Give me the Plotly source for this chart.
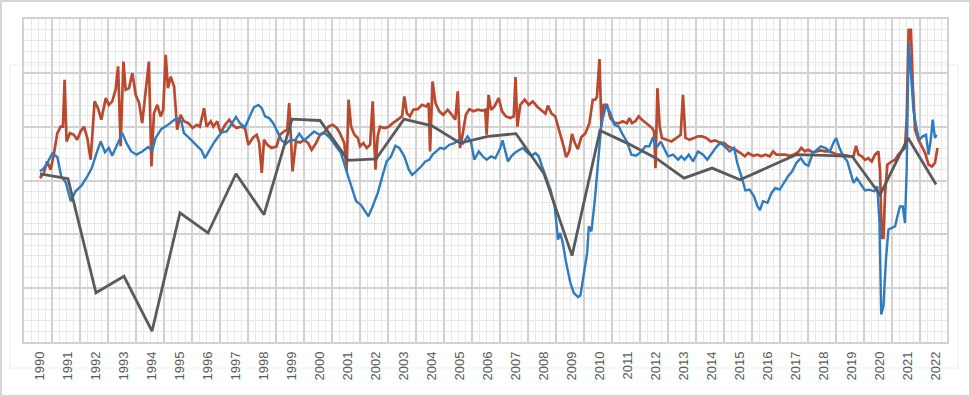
import plotly.graph_objects as go

# ---- data (y axis has no labels, unit = 1/2 major grid step) ----
years = list(range(1990, 2023))
year_labels = [str(y) for y in years]

gray_annual = [0.25, 0.07, -4.17, -3.56, -5.6, -1.2, -1.95, 0.25, -1.27, 2.28, 2.23,
               0.75, 0.8, 2.28, 2.03, 1.39, 1.64, 1.74, 0.25, -2.79, 1.86, 1.37,
               0.83, 0.09, 0.46, 0.03, 0.49, 0.96, 0.93, 0.9, -0.53, 1.58, -0.15]

blue_points = [
    (1990.0, 0.34), (1990.14, 0.46), (1990.29, 0.71), (1990.44, 1.0), (1990.62, 0.87),
    (1990.76, 0.15), (1990.92, -0.07), (1991.1, -0.77), (1991.27, -0.4), (1991.48, -0.19),
    (1991.69, 0.15), (1991.85, 0.46), (1992.02, 1.02), (1992.17, 1.45), (1992.32, 1.05),
    (1992.46, 1.21), (1992.58, 0.92), (1992.76, 1.33), (1992.94, 1.76), (1993.1, 1.37),
    (1993.26, 1.08), (1993.45, 0.96), (1993.65, 1.08), (1993.86, 1.24), (1994.01, 1.12),
    (1994.13, 1.58), (1994.33, 1.91), (1994.52, 2.03), (1994.73, 2.19), (1994.88, 2.32),
    (1995.05, 2.19), (1995.14, 1.76), (1995.3, 1.61), (1995.45, 1.45), (1995.62, 1.29),
    (1995.77, 1.12), (1995.89, 0.83), (1996.05, 1.14), (1996.19, 1.37), (1996.33, 1.58),
    (1996.49, 1.79), (1996.67, 1.82), (1996.85, 2.11), (1997.0, 2.36), (1997.14, 2.13),
    (1997.32, 1.98), (1997.48, 2.36), (1997.64, 2.72), (1997.8, 2.81), (1997.92, 2.69),
    (1998.04, 2.38), (1998.19, 2.31), (1998.33, 2.13), (1998.48, 1.82), (1998.63, 1.49),
    (1998.79, 1.37), (1998.95, 1.51), (1999.11, 1.49), (1999.26, 1.74), (1999.43, 1.49),
    (1999.62, 1.66), (1999.79, 1.82), (1999.98, 1.7), (2000.14, 1.79), (2000.33, 1.61),
    (2000.5, 1.37), (2000.75, 1.02), (2000.93, 0.4), (2001.11, -0.15), (2001.29, -0.77),
    (2001.46, -0.9), (2001.64, -1.19), (2001.73, -1.33), (2001.88, -0.96), (2002.06, -0.47),
    (2002.24, 0.21), (2002.38, 0.71), (2002.54, 0.9), (2002.69, 1.29), (2002.83, 1.21),
    (2003.01, 0.9), (2003.17, 0.4), (2003.29, 0.21), (2003.43, 0.34), (2003.61, 0.52),
    (2003.76, 0.71), (2003.9, 0.77), (2004.02, 0.96), (2004.14, 1.08), (2004.29, 1.21),
    (2004.44, 1.17), (2004.62, 1.33), (2004.8, 1.39), (2004.95, 1.51), (2005.1, 1.37),
    (2005.27, 1.64), (2005.39, 1.45), (2005.51, 0.77), (2005.67, 1.08), (2005.81, 0.9),
    (2005.95, 0.77), (2006.11, 0.9), (2006.26, 0.83), (2006.44, 1.21), (2006.52, 1.49),
    (2006.62, 1.08), (2006.71, 0.71), (2006.83, 0.9), (2006.95, 1.02), (2007.1, 1.12),
    (2007.24, 1.21), (2007.39, 1.05), (2007.55, 0.92), (2007.69, 1.02), (2007.81, 0.9),
    (2007.93, 0.52), (2008.07, 0.15), (2008.23, -0.34), (2008.38, -0.96), (2008.5, -2.2),
    (2008.58, -1.95), (2008.67, -2.32), (2008.79, -3.06), (2008.94, -3.8), (2009.06, -4.17),
    (2009.21, -4.33), (2009.3, -4.27), (2009.42, -3.56), (2009.54, -2.69), (2009.6, -1.7),
    (2009.69, -1.89), (2009.81, -0.77), (2009.93, 0.65), (2010.05, 2.13), (2010.22, 2.81),
    (2010.37, 2.5), (2010.52, 2.07), (2010.67, 2.0), (2010.81, 1.7), (2010.96, 1.45),
    (2011.12, 0.96), (2011.29, 0.92), (2011.48, 1.08), (2011.62, 1.27), (2011.76, 1.27),
    (2011.89, 1.61), (2012.01, 1.21), (2012.17, 1.45), (2012.31, 1.14), (2012.43, 0.9),
    (2012.61, 0.96), (2012.79, 0.77), (2012.9, 0.9), (2013.02, 0.77), (2013.17, 0.96),
    (2013.32, 0.71), (2013.5, 1.08), (2013.68, 0.96), (2013.83, 0.77), (2014.0, 1.02),
    (2014.15, 1.24), (2014.31, 1.41), (2014.45, 1.27), (2014.63, 1.08), (2014.79, 1.21),
    (2014.9, 0.65), (2015.05, 0.15), (2015.19, -0.37), (2015.34, -0.34), (2015.5, -0.59),
    (2015.62, -0.96), (2015.71, -1.1), (2015.82, -0.77), (2015.98, -0.83), (2016.12, -0.47),
    (2016.26, -0.28), (2016.42, -0.34), (2016.57, -0.09), (2016.71, 0.15), (2016.86, 0.34),
    (2017.01, 0.65), (2017.17, 0.83), (2017.31, 0.62), (2017.44, 0.55), (2017.6, 1.02),
    (2017.74, 1.14), (2017.88, 1.27), (2018.04, 1.21), (2018.21, 1.08), (2018.33, 1.39),
    (2018.43, 1.58), (2018.55, 1.21), (2018.69, 0.9), (2018.83, 0.71), (2018.95, 0.28),
    (2019.05, -0.09), (2019.17, 0.09), (2019.31, -0.15), (2019.46, -0.37), (2019.62, -0.34),
    (2019.79, -0.4), (2019.9, -0.22), (2019.98, -1.58), (2020.04, -4.98), (2020.12, -4.67),
    (2020.21, -2.94), (2020.3, -1.82), (2020.42, -1.76), (2020.54, -1.7), (2020.62, -1.33),
    (2020.71, -0.96), (2020.81, -0.96), (2020.89, -1.58), (2020.95, 0.4), (2021.02, 5.1),
    (2021.1, 4.0), (2021.19, 2.63), (2021.31, 1.88), (2021.4, 1.51), (2021.52, 1.64),
    (2021.64, 1.7), (2021.73, 0.96), (2021.81, 1.51), (2021.88, 2.26), (2021.96, 1.58),
    (2022.02, 1.7),
]

red_points = [
    (1990.0, 0.09), (1990.14, 0.28), (1990.26, 0.71), (1990.38, 0.4), (1990.5, 1.0),
    (1990.62, 1.76), (1990.74, 2.0), (1990.82, 2.0), (1990.88, 3.74), (1990.95, 1.45),
    (1991.07, 1.76), (1991.21, 1.7), (1991.33, 1.51), (1991.45, 1.82), (1991.57, 2.0),
    (1991.69, 1.58), (1991.81, 0.77), (1991.95, 2.94), (1992.07, 2.69), (1992.19, 2.26),
    (1992.35, 3.06), (1992.46, 2.81), (1992.58, 2.94), (1992.7, 3.37), (1992.79, 4.24),
    (1992.88, 1.27), (1992.98, 4.42), (1993.06, 3.37), (1993.18, 3.43), (1993.3, 3.99),
    (1993.42, 3.18), (1993.54, 2.88), (1993.65, 2.13), (1993.77, 3.18), (1993.89, 4.42),
    (1993.98, 0.52), (1994.07, 2.5), (1994.19, 2.81), (1994.31, 2.38), (1994.4, 2.63),
    (1994.49, 4.67), (1994.57, 3.43), (1994.67, 3.86), (1994.79, 3.49), (1994.9, 1.89),
    (1995.02, 2.44), (1995.14, 2.2), (1995.3, 2.13), (1995.45, 1.95), (1995.6, 2.07),
    (1995.71, 2.0), (1995.86, 2.69), (1995.95, 2.0), (1996.1, 2.2), (1996.19, 2.0),
    (1996.33, 2.2), (1996.45, 1.76), (1996.61, 2.07), (1996.76, 2.26), (1996.88, 2.07),
    (1997.02, 1.95), (1997.17, 2.0), (1997.32, 1.95), (1997.44, 1.33), (1997.6, 1.58),
    (1997.74, 1.7), (1997.83, 1.39), (1997.92, 0.28), (1998.0, 1.51), (1998.12, 1.33),
    (1998.27, 1.21), (1998.45, 1.27), (1998.57, 1.7), (1998.71, 1.82), (1998.83, 1.89),
    (1998.9, 2.88), (1999.02, 0.34), (1999.14, 1.45), (1999.29, 1.41), (1999.43, 1.51),
    (1999.58, 1.39), (1999.7, 1.14), (1999.86, 1.39), (2000.0, 1.7), (2000.14, 1.76),
    (2000.3, 2.0), (2000.45, 2.07), (2000.6, 1.95), (2000.71, 1.76), (2000.87, 1.39),
    (2000.95, 0.34), (2001.02, 3.0), (2001.11, 2.0), (2001.23, 1.7), (2001.35, 1.58),
    (2001.43, 1.27), (2001.55, 1.39), (2001.67, 1.21), (2001.79, 1.33), (2001.88, 2.94),
    (2001.98, 0.4), (2002.06, 1.64), (2002.14, 2.0), (2002.3, 1.95), (2002.45, 2.0),
    (2002.6, 2.13), (2002.77, 2.26), (2002.93, 2.38), (2003.01, 3.12), (2003.1, 2.5),
    (2003.21, 2.38), (2003.33, 2.63), (2003.49, 2.65), (2003.64, 2.81), (2003.79, 2.75),
    (2003.88, 2.88), (2003.93, 1.08), (2004.02, 3.68), (2004.12, 2.88), (2004.26, 2.57),
    (2004.4, 2.44), (2004.56, 2.63), (2004.71, 2.44), (2004.83, 2.26), (2004.92, 3.31),
    (2005.0, 1.21), (2005.1, 1.76), (2005.21, 2.44), (2005.33, 2.65), (2005.48, 2.57),
    (2005.63, 2.63), (2005.79, 2.6), (2005.9, 2.63), (2005.95, 1.7), (2006.02, 3.18),
    (2006.11, 2.63), (2006.23, 2.75), (2006.3, 2.9), (2006.38, 3.06), (2006.5, 2.57),
    (2006.64, 2.38), (2006.8, 2.32), (2006.92, 2.38), (2006.98, 3.84), (2007.05, 2.0),
    (2007.15, 2.81), (2007.31, 3.0), (2007.45, 2.81), (2007.6, 2.94), (2007.75, 2.75),
    (2007.9, 2.63), (2008.05, 2.48), (2008.14, 2.78), (2008.26, 2.5), (2008.4, 2.38),
    (2008.58, 1.76), (2008.7, 1.27), (2008.79, 0.87), (2008.9, 1.08), (2009.0, 1.73),
    (2009.1, 1.39), (2009.21, 1.17), (2009.33, 1.61), (2009.48, 1.76), (2009.62, 2.13),
    (2009.74, 3.0), (2009.83, 3.0), (2009.89, 3.12), (2009.98, 4.51), (2010.05, 2.0),
    (2010.13, 2.81), (2010.25, 2.81), (2010.37, 2.32), (2010.52, 2.13), (2010.67, 2.13),
    (2010.81, 2.2), (2010.96, 2.13), (2011.05, 2.32), (2011.14, 2.13), (2011.26, 2.2),
    (2011.38, 2.38), (2011.5, 2.26), (2011.64, 2.13), (2011.76, 2.04), (2011.86, 1.95),
    (2011.93, 1.82), (2011.98, 0.46), (2012.05, 3.43), (2012.13, 2.0), (2012.21, 1.58),
    (2012.37, 1.51), (2012.55, 1.45), (2012.73, 1.58), (2012.88, 1.7), (2012.96, 3.18),
    (2013.05, 1.58), (2013.2, 1.51), (2013.38, 1.58), (2013.5, 1.64), (2013.64, 1.64),
    (2013.8, 1.58), (2013.95, 1.45), (2014.1, 1.49), (2014.27, 1.41), (2014.43, 1.39),
    (2014.57, 1.27), (2014.71, 1.21), (2014.87, 1.12), (2015.02, 1.02), (2015.17, 0.9),
    (2015.29, 1.02), (2015.46, 0.92), (2015.62, 0.96), (2015.76, 0.9), (2015.91, 0.96),
    (2016.06, 0.9), (2016.18, 1.08), (2016.3, 0.96), (2016.45, 0.96), (2016.62, 0.96),
    (2016.77, 0.92), (2016.93, 0.96), (2017.07, 1.05), (2017.19, 1.21), (2017.31, 1.08),
    (2017.43, 1.14), (2017.6, 1.05), (2017.74, 1.08), (2017.88, 1.12), (2018.04, 1.08),
    (2018.19, 1.08), (2018.33, 1.02), (2018.48, 0.96), (2018.63, 0.96), (2018.79, 0.92),
    (2018.93, 0.9), (2019.05, 0.9), (2019.14, 1.29), (2019.23, 0.96), (2019.35, 0.9),
    (2019.46, 0.77), (2019.58, 0.83), (2019.7, 0.71), (2019.82, 0.96), (2019.94, 1.08),
    (2020.0, 0.34), (2020.06, -2.13), (2020.12, -2.13), (2020.18, -0.47), (2020.26, 0.59),
    (2020.42, 0.71), (2020.54, 0.77), (2020.65, 0.96), (2020.77, 1.08), (2020.89, 1.21),
    (2020.95, 2.26), (2021.02, 5.6), (2021.1, 5.6), (2021.17, 3.49), (2021.25, 1.89),
    (2021.37, 1.51), (2021.49, 1.27), (2021.61, 1.02), (2021.73, 0.59), (2021.85, 0.52),
    (2021.96, 0.65), (2022.05, 1.21),
]

BLUE = "#2E7BBF"
RED = "#B9492F"
GRAY = "#5A5A5A"

fig = go.Figure()
fig.add_trace(go.Scatter(x=[p[0] for p in red_points], y=[p[1] for p in red_points],
                         mode="lines", line=dict(color=RED, width=2.7), showlegend=False,
                         hoverinfo="skip"))
fig.add_trace(go.Scatter(x=[p[0] for p in blue_points], y=[p[1] for p in blue_points],
                         mode="lines", line=dict(color=BLUE, width=2.4), showlegend=False,
                         hoverinfo="skip"))
fig.add_trace(go.Scatter(x=years, y=gray_annual, xaxis="x2",
                         mode="lines", line=dict(color=GRAY, width=2.8), showlegend=False,
                         hoverinfo="skip"))

x_lo, x_hi = 1989.43, 2022.39
fig.update_layout(
    width=971, height=397,
    margin=dict(l=24, r=24, t=19, b=55),
    paper_bgcolor="white", plot_bgcolor="white",
    xaxis=dict(range=[x_lo, x_hi], tickmode="linear", tick0=x_lo, dtick=1,
               showgrid=True, gridcolor="#d2d2d2", gridwidth=1.6,
               showticklabels=False, zeroline=False, ticks="",
               showline=True, linecolor="#d2d2d2", linewidth=1.6, mirror=True,
               minor=dict(tick0=x_lo, dtick=0.25, showgrid=True,
                          gridcolor="#e9e9e9", gridwidth=1)),
    xaxis2=dict(overlaying="x", matches="x", anchor="y", side="bottom",
                tickmode="array", tickvals=years, ticktext=year_labels,
                tickangle=-90, showgrid=False, zeroline=False, ticks="",
                ticklabelstandoff=6,
                tickfont=dict(family="Liberation Sans, Arial, sans-serif",
                              size=13, color="#595959")),
    yaxis=dict(range=[-6, 6], tickmode="linear", tick0=0, dtick=2,
               showgrid=True, gridcolor="#d2d2d2", gridwidth=1.6,
               showticklabels=False, zeroline=False, ticks="",
               showline=True, linecolor="#d2d2d2", linewidth=1.6, mirror=True,
               minor=dict(tick0=0, dtick=0.4, showgrid=True,
                          gridcolor="#e9e9e9", gridwidth=1)),
    shapes=[
        # outer chart border
        dict(type="rect", xref="paper", yref="paper", layer="above",
             x0=(1 - 24) / 923, x1=(970 - 24) / 923,
             y0=(342 - 396) / 323, y1=(342 - 1) / 323,
             line=dict(color="#d6d6d6", width=2)),
        # faint inner frame
        dict(type="rect", xref="paper", yref="paper", layer="below",
             x0=(10 - 24) / 923, x1=(958 - 24) / 923,
             y0=(342 - 368) / 323, y1=(342 - 65) / 323,
             line=dict(color="#eeeeee", width=1)),
    ],
)

fig.write_html("out.html", config={"displayModeBar": False},
               post_script="document.body.style.margin='0';document.body.style.overflow='hidden';")
